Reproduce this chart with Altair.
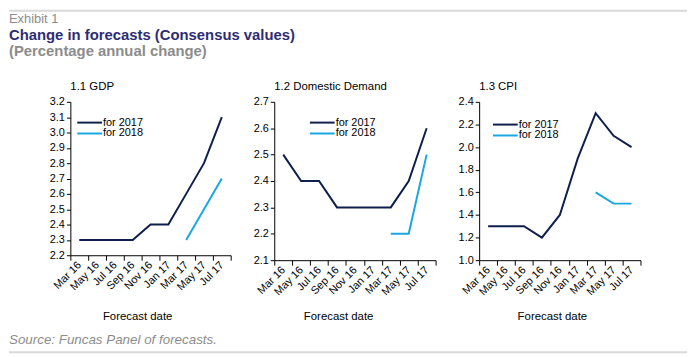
import altair as alt
import pandas as pd

dates = ["Mar 16", "May 16", "Jul 16", "Sep 16", "Nov 16", "Jan 17", "Mar 17", "May 17", "Jul 17"]
dates_2018 = ["Mar 17", "May 17", "Jul 17"]
series_names = ["for 2017", "for 2018"]
series_colors = ["#0E1F4D", "#18A7E1"]

gdp_2017 = [2.3, 2.3, 2.3, 2.3, 2.4, 2.4, 2.6, 2.8, 3.1]
gdp_2018 = [2.3, 2.5, 2.7]
dd_2017 = [2.5, 2.4, 2.4, 2.3, 2.3, 2.3, 2.3, 2.4, 2.6]
dd_2018 = [2.2, 2.2, 2.5]
cpi_2017 = [1.3, 1.3, 1.3, 1.2, 1.4, 1.9, 2.3, 2.1, 2.0]
cpi_2018 = [1.6, 1.5, 1.5]

gdp_ticks = [2.2, 2.3, 2.4, 2.5, 2.6, 2.7, 2.8, 2.9, 3.0, 3.1, 3.2]
dd_ticks = [2.1, 2.2, 2.3, 2.4, 2.5, 2.6, 2.7]
cpi_ticks = [1.0, 1.2, 1.4, 1.6, 1.8, 2.0, 2.2, 2.4]

panel_titles = ["1.1 GDP", "1.2 Domestic Demand", "1.3 CPI"]
x_title = "Forecast date"
header_exhibit = "Exhibit 1"
header_title = "Change in forecasts (Consensus values)"
header_subtitle = "(Percentage annual change)"
source_text = "Source: Funcas Panel of forecasts."

FONT = "Liberation Sans"
GRAY = "#8C8C8C"


def text_layer(txt, x, y, size=11.5, color="black", weight="normal", style="normal", align="left"):
    return alt.Chart(pd.DataFrame({"t": [txt]})).mark_text(
        align=align, baseline="alphabetic", font=FONT, fontSize=size, color=color,
        fontWeight=weight, fontStyle=style
    ).encode(x=alt.value(x), y=alt.value(y), text="t:N")


def make_panel(v17, v18, ticks, title, width, height, legend_x, legend_y, xtitle_x, extra=None):
    rows = [{"date": d, "value": v, "series": series_names[0]} for d, v in zip(dates, v17)]
    rows += [{"date": d, "value": v, "series": series_names[1]} for d, v in zip(dates_2018, v18)]
    df = pd.DataFrame(rows)
    lines = alt.Chart(df).mark_line(strokeWidth=2).encode(
        x=alt.X("date:N",
                scale=alt.Scale(type="band", domain=dates, paddingInner=0, paddingOuter=0),
                axis=alt.Axis(title=None, labelAngle=-45, labelAlign="right", labelBaseline="middle",
                              tickBand="extent", tickSize=5, labelPadding=3)),
        y=alt.Y("value:Q",
                scale=alt.Scale(domain=[ticks[0], ticks[-1]], nice=False, zero=False),
                axis=alt.Axis(title=None, values=ticks, format=".1f", tickSize=4, labelPadding=2)),
        color=alt.Color("series:N", scale=alt.Scale(domain=series_names, range=series_colors), legend=None),
    )
    layers = [lines]
    for i, name in enumerate(series_names):
        layers.append(
            alt.Chart(pd.DataFrame({"s": [name]})).mark_rule(color=series_colors[i], strokeWidth=2).encode(
                x=alt.value(legend_x), x2=alt.value(legend_x + 25), y=alt.value(legend_y + 11 * i))
        )
        layers.append(
            alt.Chart(pd.DataFrame({"s": [name]})).mark_text(
                align="left", baseline="middle", font=FONT, fontSize=11, color="black"
            ).encode(x=alt.value(legend_x + 26), y=alt.value(legend_y + 11 * i), text="s:N")
        )
    layers.append(text_layer(title, 0, -12))
    layers.append(text_layer(x_title, xtitle_x, 220, align="center"))
    if extra:
        layers += extra
    return alt.layer(*layers).properties(width=width, height=height)


header = [
    alt.Chart(pd.DataFrame({"k": ["top"]})).mark_rule(color="#D9D9D9", strokeWidth=2).encode(
        x=alt.value(-62), x2=alt.value(623), y=alt.value(-92)),
    alt.Chart(pd.DataFrame({"k": ["bottom"]})).mark_rule(color="#D9D9D9", strokeWidth=2).encode(
        x=alt.value(-62), x2=alt.value(623), y=alt.value(253)),
    text_layer(header_exhibit, -62, -80, size=13, color=GRAY),
    text_layer(header_title, -62, -62, size=15, color="#2E2D74", weight="bold"),
    text_layer(header_subtitle, -62, -46, size=15, color=GRAY, weight="bold"),
    text_layer(source_text, -62, 245, size=13.5, color=GRAY, style="italic"),
]

p1 = make_panel(gdp_2017, gdp_2018, gdp_ticks, panel_titles[0], 162, 155, 7, 21, 68, extra=header)
p2 = make_panel(dd_2017, dd_2018, dd_ticks, panel_titles[1], 163, 160, 36, 21, 65)
p3 = make_panel(cpi_2017, cpi_2018, cpi_ticks, panel_titles[2], 163, 160, 14, 23, 74)

chart = alt.hconcat(p1, p2, p3, spacing=44, bounds="flush").properties(
    padding={"left": 0, "top": 0, "right": 0, "bottom": 0}
).configure_view(stroke=None).configure_axis(
    grid=False, domainColor="black", tickColor="black", labelColor="black",
    labelFont=FONT, labelFontSize=11, domainWidth=1, tickWidth=1
)

chart.save("out.html", embed_options={"renderer": "svg", "actions": False})
